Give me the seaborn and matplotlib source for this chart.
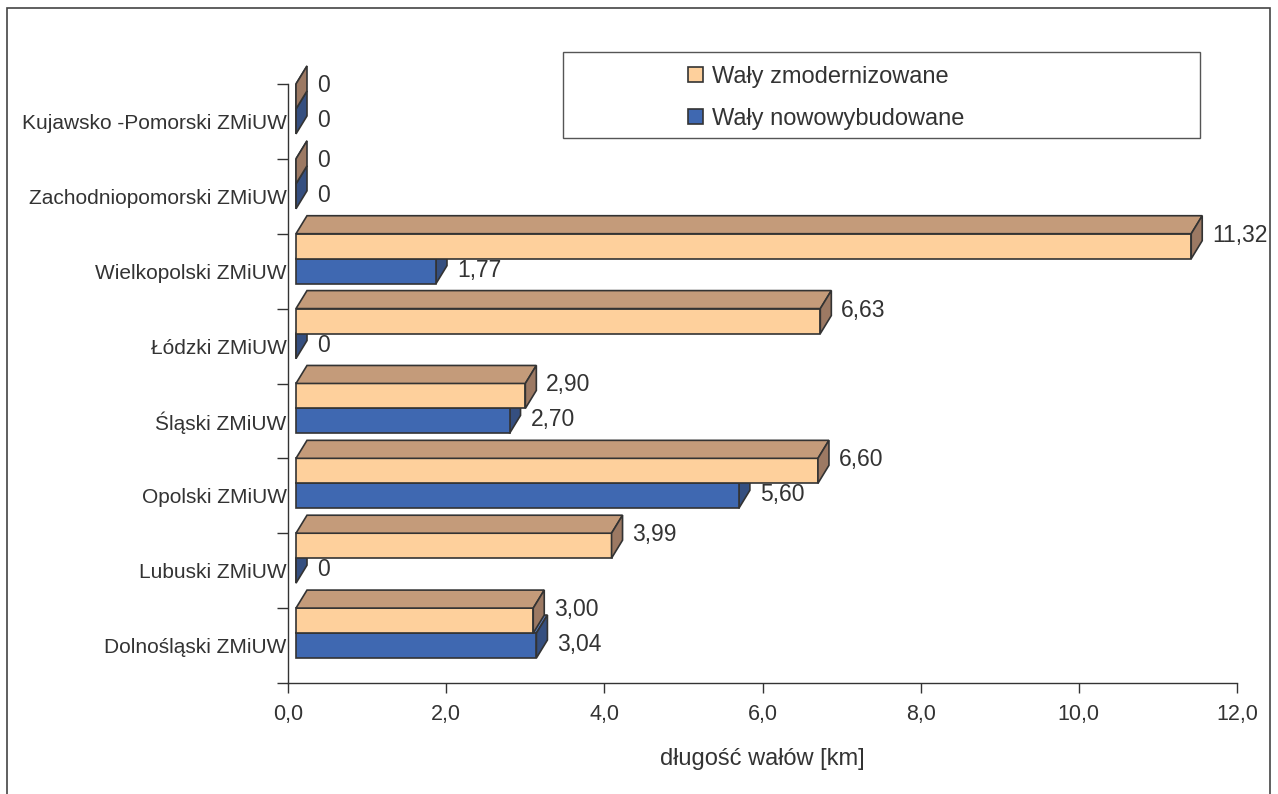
import matplotlib
matplotlib.use("Agg")
import matplotlib.pyplot as plt
import seaborn as sns
import pandas as pd
import numpy as np
from matplotlib.patches import Polygon, Rectangle, Patch
from matplotlib.transforms import IdentityTransform, ScaledTranslation

# ---------------- data ----------------
categories = ["Kujawsko -Pomorski ZMiUW", "Zachodniopomorski ZMiUW", "Wielkopolski ZMiUW",
              "Łódzki ZMiUW", "Śląski ZMiUW", "Opolski ZMiUW", "Lubuski ZMiUW",
              "Dolnośląski ZMiUW"]
modernized = [0, 0, 11.32, 6.63, 2.90, 6.60, 3.99, 3.00]
new_built = [0, 0, 1.77, 0, 2.70, 5.60, 0, 3.04]
series = ["Wały zmodernizowane", "Wały nowowybudowane"]
x_ticks = [0, 2, 4, 6, 8, 10, 12]
x_tick_labels = ["0,0", "2,0", "4,0", "6,0", "8,0", "10,0", "12,0"]
x_label = "długość wałów [km]"

# ---------------- style ----------------
front_cols = ["#FED09C", "#3F68B1"]
top_cols = ["#C49B7A", "#5A7BB8"]
side_cols = ["#9C7963", "#354F80"]
edge = "#333333"
txt = "#333333"

sns.set_style("white")
plt.rcParams['font.family'] = ['Liberation Sans', 'DejaVu Sans']

W, H = 1278, 794
DPI = 100
fig = plt.figure(figsize=(W / DPI, H / DPI), dpi=DPI)
ax = fig.add_axes([288 / W, 1 - 683 / H, (1237 - 288) / W, (683 - 84) / H])

df = pd.DataFrame({
    "region": categories * 2,
    "value": modernized + new_built,
    "series": [series[0]] * len(categories) + [series[1]] * len(categories),
})

sns.barplot(data=df, x="value", y="region", hue="series", order=categories,
            hue_order=series, palette=front_cols, orient="h", width=0.667,
            saturation=1, edgecolor=edge, linewidth=1.2, legend=False,
            errorbar=None, ax=ax)

ax.set_xlim(0, 12)
ax.set_ylim(len(categories) - 0.5, -0.5)

# axes styling
for s in ["top", "right"]:
    ax.spines[s].set_visible(False)
for s in ["left", "bottom"]:
    ax.spines[s].set_color(edge)
    ax.spines[s].set_linewidth(1.0)

ax.set_xticks(x_ticks, labels=x_tick_labels)
ax.tick_params(axis="x", which="major", direction="out", length=7.5, width=1.0,
               color=edge, labelsize=15.5, labelcolor=txt, pad=7.5, bottom=True)
ax.set_yticks(range(len(categories)), labels=categories)
ax.tick_params(axis="y", which="major", length=0, labelsize=15, labelcolor=txt, pad=1)
ax.set_yticks(np.arange(-0.5, len(categories), 1.0), minor=True)
ax.tick_params(axis="y", which="minor", direction="out", length=8, width=1.0,
               color=edge, left=True)
ax.set_ylabel("")
ax.set_xlabel(x_label, fontsize=17, color=txt, labelpad=17)

# ---------------- pseudo 3D faces ----------------
shift_x, shift_y = 8, 12.5      # px shift of bar fronts
dx, dy = 11, 18                  # px depth
offset = ScaledTranslation(shift_x / DPI, shift_y / DPI, fig.dpi_scale_trans)

bars = list(ax.patches)
for p in bars:
    yc = p.get_y() + p.get_height() / 2
    k = 0 if yc < round(yc) else 1  # top half -> modernized
    p.set_transform(ax.transData + offset)
    p.set_zorder(3 if k == 0 else 2.5)
    (x0, y0) = ax.transData.transform((p.get_x(), p.get_y()))
    (x1, y1) = ax.transData.transform((p.get_x() + p.get_width(), p.get_y() + p.get_height()))
    L, R = min(x0, x1) + shift_x, max(x0, x1) + shift_x
    B, T = min(y0, y1) + shift_y, max(y0, y1) + shift_y
    zf = 3.5 if k == 0 else 2.0
    top = Polygon([(L, T), (R, T), (R + dx, T + dy), (L + dx, T + dy)], closed=True,
                  transform=IdentityTransform(), fc=top_cols[k], ec=edge, lw=1.2,
                  zorder=zf, clip_on=False)
    side = Polygon([(R, B), (R, T), (R + dx, T + dy), (R + dx, B + dy)], closed=True,
                   transform=IdentityTransform(), fc=side_cols[k], ec=edge, lw=1.2,
                   zorder=zf, clip_on=False)
    ax.add_patch(top)
    ax.add_patch(side)
    val = p.get_width()
    lab = "0" if val == 0 else f"{val:.2f}".replace(".", ",")
    ax.annotate(lab, xy=(val, yc), xytext=(shift_x + 21, shift_y + (11 if k == 0 else 1)),
                textcoords="offset pixels", ha="left", va="center", fontsize=16.5,
                color=txt, zorder=5, annotation_clip=False)

# ---------------- legend ----------------
handles = [Patch(facecolor=front_cols[i], edgecolor=edge, linewidth=1.2) for i in range(2)]
fig.legend(handles, series, loc="upper left", bbox_to_anchor=(688 / W, 1 - 66 / H),
           frameon=False, fontsize=17, handlelength=0.62, handleheight=0.62,
           handletextpad=0.38, labelspacing=0.85, borderpad=0, borderaxespad=0,
           labelcolor=txt)
fig.add_artist(Rectangle((563 / W, 1 - 138 / H), 637 / W, 86 / H, transform=fig.transFigure,
                         fill=False, ec="#555555", lw=1.0))

# outer border
fig.add_artist(Rectangle((7 / W, -10 / H), (1270 - 7) / W, (794 - 8 + 10) / H,
                         transform=fig.transFigure, fill=False, ec="#444444", lw=1.2))

fig.savefig("out.png", dpi=DPI)
